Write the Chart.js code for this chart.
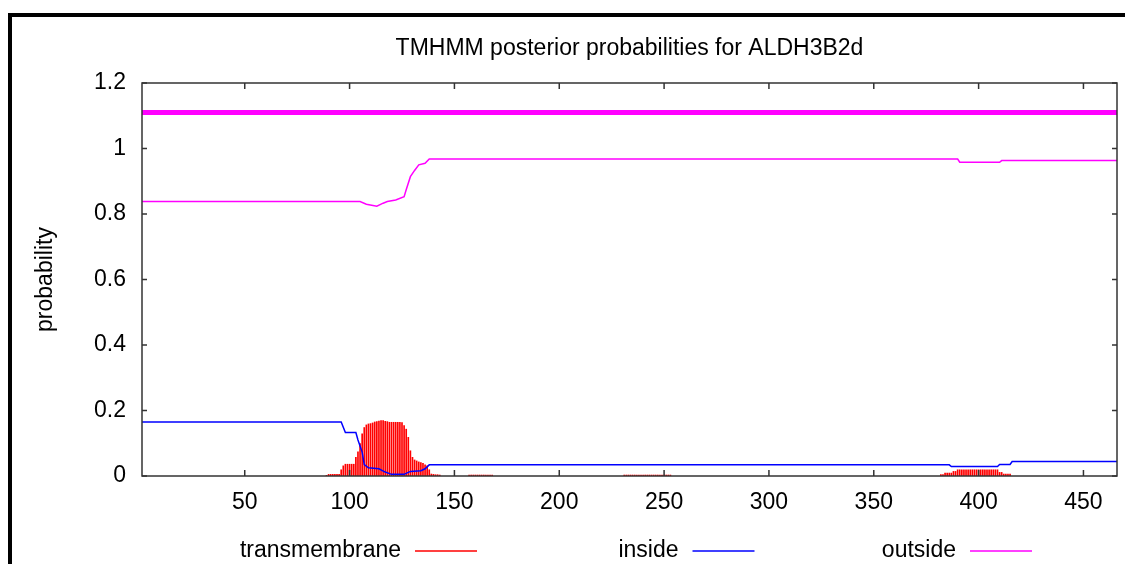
<!DOCTYPE html>
<html>
<head>
<meta charset="utf-8">
<script src="https://cdn.jsdelivr.net/npm/chart.js@4"></script>
<style>
    body { margin: 0; background: #fff; }
    #wrap { position: relative; width: 1125px; height: 564px; }
</style>
</head>
<body>
<div id="wrap"><canvas id="grafico"></canvas></div>
<script>
/* DADOS */
const titulo = "TMHMM posterior probabilities for ALDH3B2d";
const xTicks = [50, 100, 150, 200, 250, 300, 350, 400, 450];
const yTicks = [0, 0.2, 0.4, 0.6, 0.8, 1, 1.2];
const seqLen = 466;

// inside (azul)
const insideRes = [1, 96, 98, 103, 104, 106, 107, 109, 114, 117, 120, 126, 129, 134, 136, 138, 386, 387, 409, 410, 415, 416, 466];
const insideProb = [0.165, 0.165, 0.133, 0.133, 0.11, 0.073, 0.035, 0.025, 0.022, 0.012, 0.005, 0.005, 0.014, 0.016, 0.022, 0.034, 0.034, 0.029, 0.029, 0.035, 0.035, 0.044, 0.044];

// outside (magenta)
const outsideRes = [1, 105, 108, 113, 116, 118, 122, 126, 127, 129, 131, 133, 136, 138, 390, 391, 410, 411, 466];
const outsideProb = [0.838, 0.838, 0.83, 0.824, 0.833, 0.838, 0.843, 0.853, 0.874, 0.914, 0.933, 0.95, 0.955, 0.968, 0.968, 0.958, 0.958, 0.963, 0.963];

// topologia prevista (linha grossa)
const topoRes = [1, 466];
const topoProb = [1.11, 1.11];

// transmembrane (impulsos vermelhos), por trecho
const tmStarts = [89, 157, 231, 382];
const tmTrechos = [
    [0.003, 0.006, 0.006, 0.006, 0.006, 0.006, 0.006, 0.02, 0.032, 0.037,
     0.037, 0.037, 0.037, 0.037, 0.058, 0.075, 0.1, 0.13, 0.149, 0.157,
     0.16, 0.161, 0.163, 0.166, 0.167, 0.169, 0.17, 0.17, 0.168, 0.167,
     0.165, 0.165, 0.165, 0.165, 0.165, 0.165, 0.164, 0.155, 0.144, 0.119,
     0.078, 0.058, 0.05, 0.047, 0.044, 0.042, 0.04, 0.035, 0.032, 0.02,
     0.007, 0.006, 0.005, 0.005, 0.004],
    [0.004, 0.004, 0.004, 0.004, 0.004, 0.004, 0.004, 0.004, 0.004, 0.004, 0.004, 0.004],
    [0.004, 0.004, 0.004, 0.004, 0.004, 0.004, 0.004, 0.004, 0.004, 0.004, 0.004, 0.004,
     0.004, 0.004, 0.004, 0.004, 0.004, 0.004, 0.004, 0.004, 0.004, 0.004, 0.004],
    [0.005, 0.005, 0.01, 0.01, 0.01, 0.01, 0.015, 0.015, 0.02, 0.02,
     0.02, 0.02, 0.02, 0.02, 0.02, 0.02, 0.02, 0.02, 0.02, 0.02,
     0.02, 0.02, 0.02, 0.02, 0.02, 0.02, 0.02, 0.02, 0.012, 0.012,
     0.007, 0.007, 0.007, 0.007]
];

const pontos = (xs, ys) => xs.map((x, i) => ({ x: x, y: ys[i] }));
const tmPontos = [];
tmTrechos.forEach((vals, t) => {
    vals.forEach((v, i) => tmPontos.push({ x: tmStarts[t] + i, y: v }));
});

const fonte = "'Liberation Sans', Arial, sans-serif";

/* PLUGIN - MOLDURA, TICKS, TITULO E LEGENDA */
const estiloGnuplot = {
    id: "estiloGnuplot",
    afterDatasetsDraw(chart) {
        const ctx = chart.ctx;
        const a = chart.chartArea;
        const sx = chart.scales.x, sy = chart.scales.y;
        ctx.save();
        // moldura externa
        ctx.fillStyle = "#000";
        ctx.fillRect(8, 13, 4, 564 - 13);
        ctx.fillRect(8, 13, 1125 - 8, 4);
        // caixa do grafico
        ctx.strokeStyle = "#333";
        ctx.lineWidth = 1.5;
        ctx.strokeRect(a.left, a.top, a.right - a.left, a.bottom - a.top);
        ctx.beginPath();
        xTicks.forEach(v => {
            const px = sx.getPixelForValue(v);
            ctx.moveTo(px, a.bottom); ctx.lineTo(px, a.bottom - 6);
            ctx.moveTo(px, a.top); ctx.lineTo(px, a.top + 6);
        });
        yTicks.forEach(v => {
            const py = sy.getPixelForValue(v);
            ctx.moveTo(a.left, py); ctx.lineTo(a.left + 5, py);
            ctx.moveTo(a.right, py); ctx.lineTo(a.right - 5, py);
        });
        ctx.stroke();
        // titulo
        ctx.fillStyle = "#000";
        ctx.font = "23px " + fonte;
        ctx.textAlign = "center";
        ctx.textBaseline = "alphabetic";
        ctx.fillText(titulo, (a.left + a.right) / 2, 55);
        // legenda
        const itens = chart.data.datasets.filter(d => d.label);
        itens.forEach((d, i) => {
            const x0 = 415 + i * 277.5;
            ctx.textAlign = "right";
            ctx.textBaseline = "middle";
            ctx.fillText(d.label, x0 - 14, 551);
            ctx.strokeStyle = d.borderColor || d.backgroundColor;
            ctx.lineWidth = 1.5;
            ctx.beginPath();
            ctx.moveTo(x0, 551); ctx.lineTo(x0 + 62, 551);
            ctx.stroke();
        });
        ctx.restore();
    }
};

new Chart(document.getElementById("grafico"), {
    type: "bar",
    data: {
        datasets: [
            {
                type: "bar",
                label: "transmembrane",
                data: tmPontos,
                backgroundColor: "#ff0000",
                borderColor: "#ff0000",
                barPercentage: 0.8,
                categoryPercentage: 1,
                order: 3
            },
            {
                type: "line",
                label: "inside",
                data: pontos(insideRes, insideProb),
                borderColor: "#0000ff",
                borderWidth: 1.5,
                pointRadius: 0,
                tension: 0,
                order: 1
            },
            {
                type: "line",
                label: "outside",
                data: pontos(outsideRes, outsideProb),
                borderColor: "#ff00ff",
                borderWidth: 1.5,
                pointRadius: 0,
                tension: 0,
                order: 1
            },
            {
                type: "line",
                data: pontos(topoRes, topoProb),
                borderColor: "#ff00ff",
                borderWidth: 5,
                pointRadius: 0,
                order: 2
            }
        ]
    },
    options: {
        responsive: true,
        maintainAspectRatio: false,
        animation: false,
        layout: { padding: { left: 10, right: 8, top: 83, bottom: 0 } },
        plugins: {
            legend: { display: false },
            title: { display: false },
            tooltip: { enabled: false }
        },
        scales: {
            x: {
                type: "linear",
                min: 1,
                max: seqLen,
                offset: false,
                grid: { display: false, drawTicks: false, offset: false },
                border: { display: false },
                afterBuildTicks: s => { s.ticks = xTicks.map(v => ({ value: v })); },
                afterFit: s => { s.height = 88; },
                ticks: {
                    padding: 13,
                    maxRotation: 0,
                    autoSkip: false,
                    color: "#000",
                    font: { family: fonte, size: 23 },
                    callback: v => String(v)
                }
            },
            y: {
                min: 0,
                max: 1.2,
                grid: { display: false, drawTicks: false },
                border: { display: false },
                afterBuildTicks: s => { s.ticks = yTicks.map(v => ({ value: v })); },
                afterFit: s => { s.width = 132; },
                ticks: {
                    padding: 16,
                    autoSkip: false,
                    color: "#000",
                    font: { family: fonte, size: 23 },
                    callback: v => String(v)
                },
                title: {
                    display: true,
                    text: "probability",
                    color: "#000",
                    font: { family: fonte, size: 23 },
                    padding: { top: 22, bottom: 0 }
                }
            }
        }
    },
    plugins: [estiloGnuplot]
});
</script>
</body>
</html>
